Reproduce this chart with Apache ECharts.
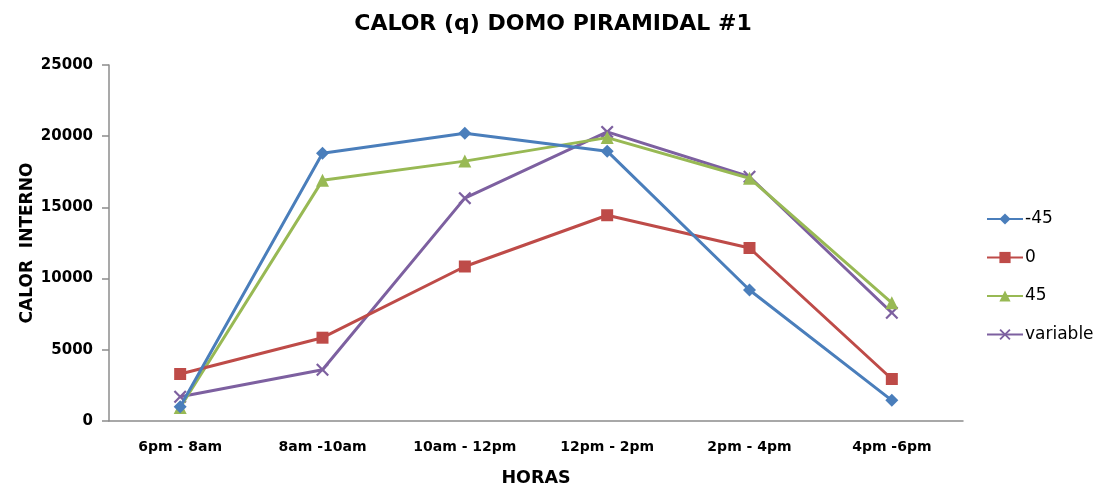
<!DOCTYPE html>
<html><head><meta charset="utf-8">
<script src="https://cdn.jsdelivr.net/npm/echarts@6/dist/echarts.min.js"></script>
<style>html,body{margin:0;padding:0;background:#fff;overflow:hidden}#c{width:1102px;height:485px}</style>
</head><body><div id="c"></div>
<script>
const categories = ['6pm - 8am', '8am -10am', '10am - 12pm', '12pm - 2pm', '2pm - 4pm', '4pm -6pm'];
const seriesNames = ['-45', '0', '45', 'variable'];
const sNeg45 = [1000, 18800, 20200, 18950, 9200, 1450];
const s0 = [3300, 5850, 10850, 14450, 12150, 2950];
const s45 = [950, 16900, 18250, 19900, 17050, 8300];
const sVar = [1700, 3600, 15650, 20300, 17150, 7600];
const yTicks = [0, 5000, 10000, 15000, 20000, 25000];

const colors = ['#4A7EBB', '#BE4B48', '#98B954', '#7D60A0'];
const xPath = 'path://M0,1.2L1.2,0L5,3.8L8.8,0L10,1.2L6.2,5L10,8.8L8.8,10L5,6.2L1.2,10L0,8.8L3.8,5Z';
const symbols = ['diamond', 'rect', 'triangle', xPath];
const sizes = [13, 12, 13, 13];
const data = [sNeg45, s0, s45, sVar];
const font = 'DejaVu Sans';

const chart = echarts.init(document.getElementById('c'), null, {renderer: 'canvas', width: 1102, height: 485});
chart.setOption({
  animation: false,
  backgroundColor: '#fff',
  title: {
    text: 'CALOR (q) DOMO PIRAMIDAL #1',
    left: 548, top: 8, textAlign: 'center',
    textStyle: {fontFamily: font, fontWeight: 'bold', fontSize: 22, color: '#000'}
  },
  legend: {
    orient: 'vertical', left: 981, top: 204, itemGap: 18.5,
    itemWidth: 36, itemHeight: 14,
    textStyle: {fontFamily: font, fontSize: 17, lineHeight: 20, color: '#000', padding: [0, 0, 0, -3]},
    data: seriesNames
  },
  grid: {left: 109, top: 65, width: 854, height: 356, outerBoundsMode: 'none', containLabel: false},
  xAxis: {
    type: 'category', data: categories, boundaryGap: true,
    name: 'HORAS', nameLocation: 'middle', nameGap: 48, nameMoveOverlap: false,
    nameTextStyle: {fontFamily: font, fontWeight: 'bold', fontSize: 17.5, color: '#000'},
    axisLine: {lineStyle: {color: '#8c8c8c', width: 1.5}},
    axisTick: {show: false},
    axisLabel: {fontFamily: font, fontWeight: 'bold', fontSize: 14, color: '#000', margin: 19}
  },
  yAxis: {
    type: 'value', min: 0, max: 25000, interval: 5000,
    name: 'CALOR  INTERNO', nameLocation: 'middle', nameGap: 73, nameRotate: 90, nameMoveOverlap: false,
    nameTextStyle: {fontFamily: font, fontWeight: 'bold', fontSize: 17, color: '#000'},
    axisLine: {show: true, lineStyle: {color: '#8c8c8c', width: 1.5}},
    axisTick: {show: true, length: 7, lineStyle: {color: '#8c8c8c', width: 1.5}},
    splitLine: {show: false},
    axisLabel: {fontFamily: font, fontWeight: 'bold', fontSize: 15, color: '#000', margin: 16,
      formatter: v => yTicks.includes(v) ? String(v) : ''}
  },
  series: seriesNames.map((n, i) => ({
    name: n, type: 'line', data: data[i],
    symbol: symbols[i], symbolSize: sizes[i], showSymbol: true,
    lineStyle: {color: colors[i], width: 3},
    itemStyle: {color: colors[i]},
    z: 10 - i
  }))
});
</script></body></html>
